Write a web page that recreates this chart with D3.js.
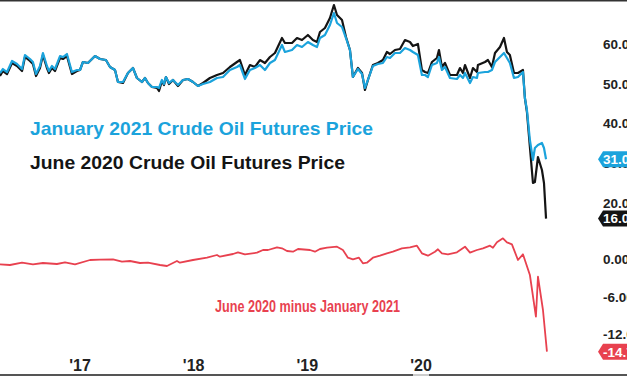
<!DOCTYPE html>
<html>
<head>
<meta charset="utf-8">
<script src="https://cdn.jsdelivr.net/npm/d3@7"></script>
<style>
  body { margin: 0; background: #fff; }
  svg { display: block; font-family: "Liberation Sans", Arial, sans-serif; }
</style>
</head>
<body>
<div id="chart"></div>
<script>
// x positions as two-digit decimal years (as placed on the chart's axis)
const priceYears = [16.296,16.322,16.358,16.402,16.446,16.490,16.516,16.560,16.586,16.613,16.648,16.674,16.709,16.727,16.753,16.780,16.824,16.850,16.885,16.929,16.973,17.000,17.026,17.070,17.132,17.176,17.228,17.264,17.308,17.334,17.378,17.422,17.466,17.501,17.545,17.572,17.598,17.633,17.677,17.695,17.721,17.739,17.756,17.783,17.818,17.862,17.906,17.950,17.994,18.038,18.082,18.143,18.205,18.258,18.319,18.381,18.407,18.451,18.495,18.539,18.583,18.627,18.671,18.715,18.777,18.803,18.865,18.909,18.953,19.005,19.049,19.085,19.111,19.155,19.199,19.234,19.261,19.305,19.340,19.375,19.401,19.445,19.481,19.507,19.533,19.577,19.621,19.665,19.700,19.727,19.771,19.815,19.859,19.903,19.929,19.973,20.008,20.035,20.061,20.096,20.140,20.158,20.184,20.211,20.255,20.316,20.343,20.369,20.387,20.431,20.457,20.492,20.501,20.563,20.589,20.624,20.651,20.695,20.730,20.756,20.782,20.818,20.853,20.897,20.914,20.932,20.958,20.985,21.002,21.029,21.064,21.082,21.100];

// June 2020 contract (black)
const june2020 = [52.04,53.31,52.55,55.33,54.57,53.31,56.84,55.83,55.07,52.04,54.06,57.35,54.06,52.80,54.06,53.31,56.59,56.34,57.09,52.55,53.31,53.56,55.58,55.33,57.09,56.34,56.08,54.32,53.56,50.53,50.28,52.80,54.06,51.54,50.53,51.54,50.28,49.27,49.02,48.26,50.78,49.77,51.79,50.02,51.04,49.52,51.04,51.29,50.53,49.52,50.28,51.54,52.30,52.80,54.32,55.58,56.08,52.30,54.82,54.32,56.08,55.33,56.84,57.85,61.64,60.38,60.38,61.64,61.13,62.40,61.13,60.63,63.16,64.17,66.69,69.97,67.45,66.19,61.89,58.61,51.79,54.06,52.80,48.51,51.04,54.82,55.33,56.08,58.11,57.60,58.61,58.86,61.13,60.63,59.62,60.13,53.56,53.05,52.80,55.58,56.59,58.61,54.32,55.33,52.30,52.30,54.06,52.80,54.82,51.54,54.06,53.05,54.82,55.58,56.08,54.32,57.85,59.37,61.64,58.11,57.35,52.80,52.80,53.56,46.49,42.95,34.12,25.03,25.28,31.59,28.31,25.03,16.04];

// January 2021 contract (blue)
const jan2021 = [52.80,53.81,53.05,55.83,55.07,53.81,57.35,56.34,55.58,52.55,54.57,57.85,54.57,53.31,54.57,53.81,57.09,56.84,57.60,53.05,53.56,53.56,55.58,55.33,57.09,56.34,56.08,54.32,53.56,50.53,50.53,52.80,54.06,51.54,50.53,51.54,50.28,49.27,49.27,49.02,51.04,50.02,51.79,50.28,51.04,49.77,51.04,51.29,50.53,49.52,50.02,50.53,51.54,51.79,53.56,54.32,54.82,51.29,53.56,54.06,54.82,53.56,55.33,56.08,59.87,58.11,58.61,59.87,59.37,60.63,59.87,59.37,61.64,62.40,64.92,67.95,65.43,64.42,61.64,58.61,51.79,53.81,52.55,49.02,51.04,54.57,55.07,55.33,56.84,56.59,57.85,57.85,59.11,58.61,58.11,57.35,52.30,52.30,51.79,54.82,55.33,56.84,53.56,54.32,51.54,51.29,52.30,51.54,52.80,50.28,51.79,51.54,52.80,53.05,53.05,53.56,55.58,56.84,57.85,56.59,55.33,51.54,51.79,53.05,46.49,43.46,35.88,30.83,33.86,34.62,35.13,33.86,31.02];

// spread: June 2020 minus January 2021 (red)
const spreadYears = [16.296,16.384,16.490,16.586,16.674,16.797,16.868,16.956,17.088,17.176,17.290,17.369,17.440,17.528,17.598,17.704,17.765,17.853,17.879,17.994,18.117,18.205,18.231,18.346,18.390,18.451,18.557,18.610,18.654,18.733,18.777,18.821,18.874,18.918,19.023,19.067,19.111,19.173,19.261,19.313,19.357,19.401,19.454,19.489,19.524,19.577,19.639,19.700,19.753,19.832,19.903,19.964,20.008,20.061,20.123,20.149,20.184,20.237,20.316,20.387,20.431,20.492,20.545,20.607,20.633,20.668,20.721,20.756,20.800,20.853,20.897,20.958,21.011,21.029,21.073,21.108];
const spread = [-0.77,-0.88,-0.51,-0.77,-0.56,-0.72,-0.45,-0.77,-0.08,-0.03,0.03,-0.35,-0.24,-0.56,-0.51,-0.88,-1.04,-0.24,-0.51,-0.08,0.29,0.72,0.45,0.88,1.15,0.83,1.09,1.52,1.52,1.95,1.79,1.36,1.25,1.68,1.52,1.25,1.68,1.89,2.05,1.52,0.29,0.03,0.29,-0.61,-0.51,0.29,0.61,0.99,1.25,1.79,1.95,2.21,0.99,0.61,1.25,1.63,0.99,0.83,1.15,2.05,1.09,1.52,1.79,2.21,1.89,2.75,3.39,2.75,2.43,-0.08,0.83,-2.48,-9.15,-2.75,-8.08,-14.75];

const yearTicks = [17, 18, 19, 20];
const yearLabels = ["'17", "'18", "'19", "'20"];
const priceTicks = [60, 50, 40, 30, 20];
const spreadTicks = [0, -6, -12];

const W = 627, H = 376;
const BLUE = "#1ba3dc", BLACK = "#141414", RED = "#e8414f";

const svg = d3.select("#chart").append("svg")
    .attr("width", W)
    .attr("height", H);

// scales
const x = d3.scaleLinear().domain([17, 20]).range([80, 421]);
const yTop = d3.scaleLinear().domain([20, 60]).range([202.9, 44.5]);
const yBot = d3.scaleLinear().domain([-12, 0]).range([334.5, 259.5]);

// frame lines
svg.append("line").attr("x1", 0).attr("x2", W).attr("y1", 0.75).attr("y2", 0.75)
    .attr("stroke", "#333").attr("stroke-width", 1.5);
svg.append("line").attr("x1", 0).attr("x2", W).attr("y1", 375).attr("y2", 375)
    .attr("stroke", "#555").attr("stroke-width", 2);
svg.append("rect").attr("x", x(20) - 8).attr("y", 374).attr("width", 16).attr("height", 2)
    .attr("fill", "#ccc");

// lines
const linePrice = d3.line().x((d, i) => x(priceYears[i])).y(d => yTop(d));
const lineSpread = d3.line().x((d, i) => x(spreadYears[i])).y(d => yBot(d));

svg.append("path").datum(june2020)
    .attr("d", linePrice).attr("fill", "none")
    .attr("stroke", BLACK).attr("stroke-width", 2.2).attr("stroke-linejoin", "round");
svg.append("path").datum(jan2021)
    .attr("d", linePrice).attr("fill", "none")
    .attr("stroke", BLUE).attr("stroke-width", 2.2).attr("stroke-linejoin", "round");
svg.append("path").datum(spread)
    .attr("d", lineSpread).attr("fill", "none")
    .attr("stroke", RED).attr("stroke-width", 1.8).attr("stroke-linejoin", "round");

// right axis labels
const axisX = 603;
svg.selectAll("text.ptick").data(priceTicks).enter().append("text")
    .attr("class", "ptick")
    .attr("x", axisX).attr("y", d => yTop(d))
    .attr("dy", "0.35em")
    .attr("font-size", 13.5).attr("font-weight", "bold").attr("fill", "#222")
    .text(d => d.toFixed(2));
svg.selectAll("text.stick").data(spreadTicks).enter().append("text")
    .attr("class", "stick")
    .attr("x", axisX).attr("y", d => yBot(d))
    .attr("dy", "0.35em")
    .attr("font-size", 13.5).attr("font-weight", "bold").attr("fill", "#222")
    .text(d => d.toFixed(2));

// last value badges
const badges = [
    {v: jan2021[jan2021.length - 1], y: yTop(jan2021[jan2021.length - 1]), c: BLUE},
    {v: june2020[june2020.length - 1], y: yTop(june2020[june2020.length - 1]), c: BLACK},
    {v: spread[spread.length - 1], y: yBot(spread[spread.length - 1]), c: RED}
];
badges.forEach(b => {
    const g = svg.append("g").attr("transform", `translate(${axisX - 5},${b.y})`);
    g.append("path")
        .attr("d", "M0,0 L5,-8 L40,-8 L40,8 L5,8 Z")
        .attr("fill", b.c);
    g.append("text")
        .attr("x", 5).attr("dy", "0.36em")
        .attr("font-size", 13.5).attr("font-weight", "bold").attr("fill", "#fff")
        .text(b.v.toFixed(2));
});

// x axis labels
svg.selectAll("text.xtick").data(yearTicks).enter().append("text")
    .attr("class", "xtick")
    .attr("x", d => x(d)).attr("y", 371)
    .attr("text-anchor", "middle")
    .attr("font-size", 16).attr("font-weight", "bold").attr("fill", "#222")
    .text((d, i) => yearLabels[i]);

// legend texts
svg.append("text").attr("x", 30).attr("y", 135)
    .attr("font-size", 19).attr("font-weight", "bold").attr("fill", BLUE)
    .attr("textLength", 343).attr("lengthAdjust", "spacingAndGlyphs")
    .text("January 2021 Crude Oil Futures Price");
svg.append("text").attr("x", 30).attr("y", 169)
    .attr("font-size", 19).attr("font-weight", "bold").attr("fill", BLACK)
    .attr("textLength", 315).attr("lengthAdjust", "spacingAndGlyphs")
    .text("June 2020 Crude Oil Futures Price");
svg.append("text").attr("x", 215).attr("y", 312)
    .attr("font-size", 17).attr("font-weight", "bold").attr("fill", RED)
    .attr("textLength", 185).attr("lengthAdjust", "spacingAndGlyphs")
    .text("June 2020 minus January 2021");
</script>
</body>
</html>
